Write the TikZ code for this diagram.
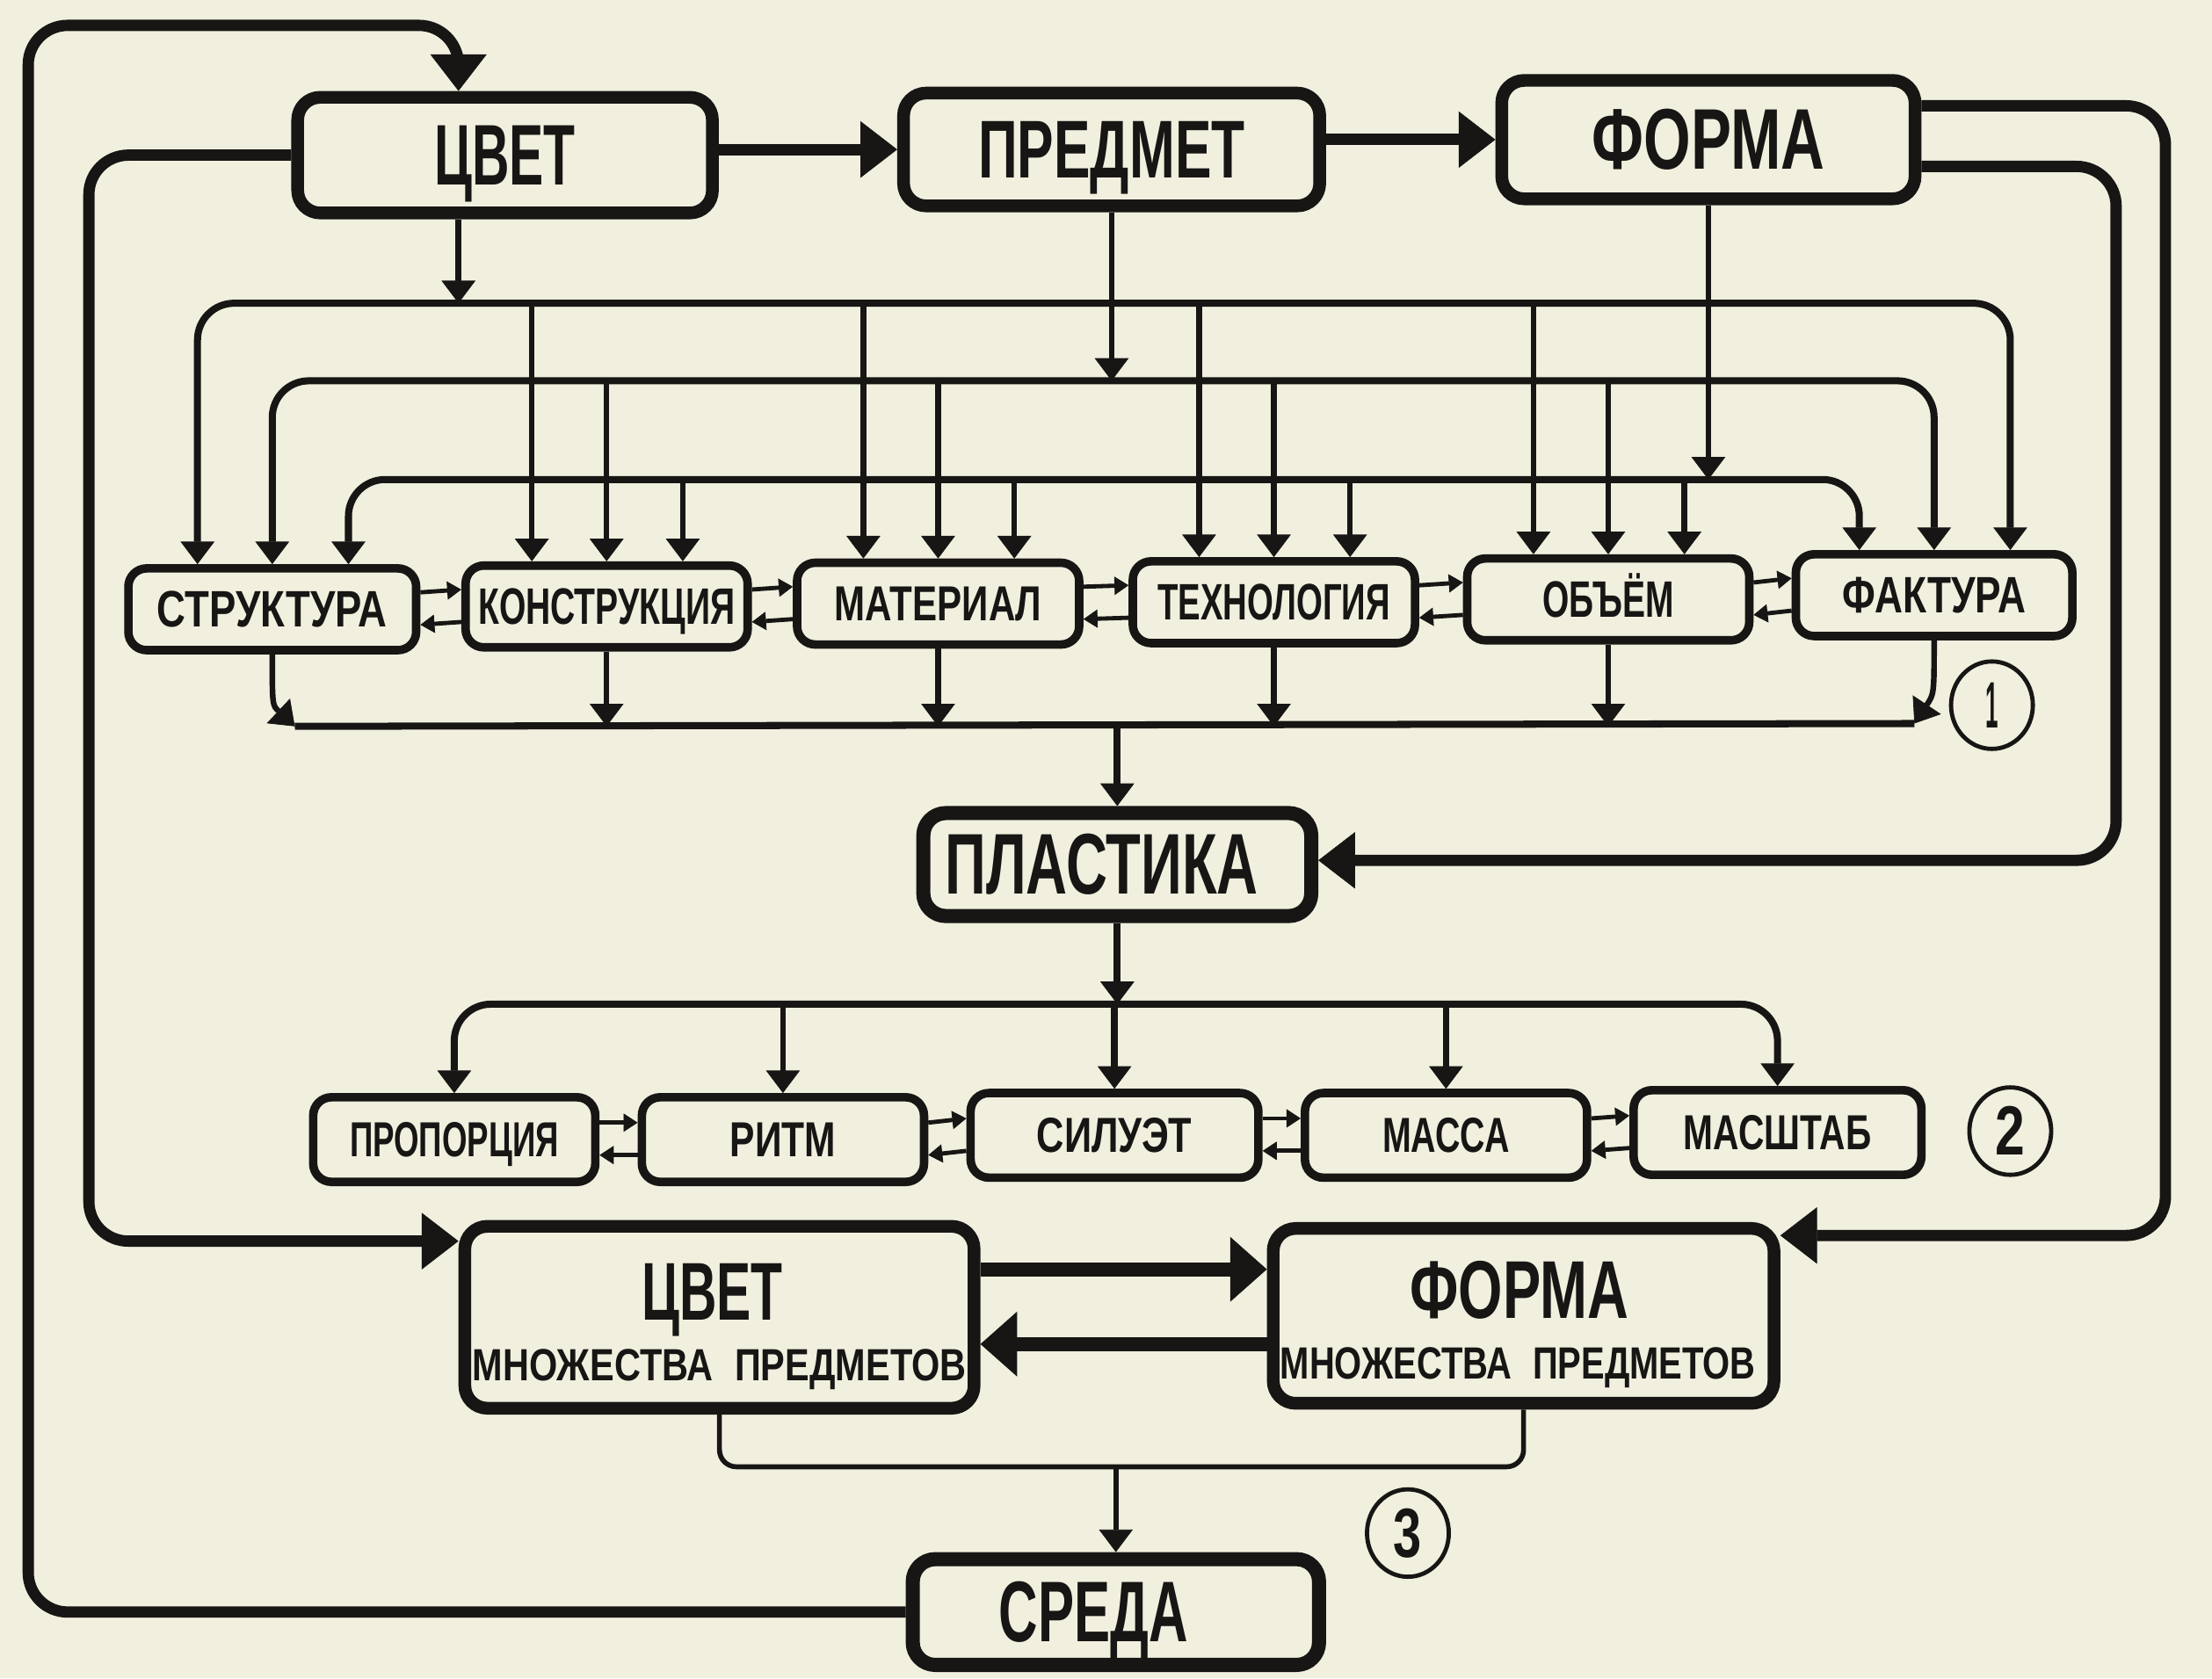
\documentclass[tikz,border=0pt]{standalone}
\usepackage{fontspec}
\setmainfont{Liberation Sans}
\usepackage{graphicx}
\usetikzlibrary{arrows.meta,shapes.geometric}
\definecolor{paper}{RGB}{241,239,222}
\definecolor{ink}{RGB}{24,22,20}
\newcommand\lbl[3]{\resizebox{#1}{#2}{\raisebox{0pt}[0.688em][0pt]{\bfseries #3}}}
\tikzset{
  tipS/.tip={Triangle[length=10pt,width=13pt,line width=0.5pt]},
  tipM/.tip={Triangle[length=16pt,width=24pt,line width=0.5pt]},
  tipL/.tip={Triangle[length=26pt,width=40pt,line width=0.5pt]},
  tipXL/.tip={Triangle[length=26pt,width=46pt,line width=0.5pt]},
  bigbox/.style={draw=ink, line width=9pt, rounded corners=16pt, inner sep=0pt, fill=paper},
  rowbox/.style={draw=ink, line width=6pt, rounded corners=13pt, inner sep=0pt, fill=paper, minimum width=200pt, minimum height=58pt},
  txt/.style={inner sep=0pt},
  loopline/.style={draw=ink, line width=8pt, rounded corners=28pt, -tipL},
  busline/.style={draw=ink, line width=5pt, rounded corners=26pt},
  dropline/.style={draw=ink, line width=4pt, -tipM},
  midline/.style={draw=ink, line width=5pt, -tipM},
  thinline/.style={draw=ink, line width=3.5pt, rounded corners=12pt},
  dblline/.style={draw=ink, line width=3pt, -tipS},
  bigarrow/.style={draw=ink, line width=8pt, -tipL},
  num/.style={draw=ink, ellipse, line width=3pt, minimum width=58pt, minimum height=62pt, inner sep=0pt}
}
\begin{document}
\begin{tikzpicture}[x=1pt,y=-1pt,line join=round,text=ink]
\fill[paper] (0,0) rectangle (1568,1190);
\useasboundingbox (0,0) rectangle (1568,1190);

% top row
\node[bigbox, minimum width=294pt, minimum height=82pt] (cv) at (358,110) {\lbl{100pt}{42pt}{ЦВЕТ}};
\node[bigbox, minimum width=295pt, minimum height=80pt] (pr) at (788,106) {\lbl{189pt}{40pt}{ПРЕДМЕТ}};
\node[bigbox, minimum width=293pt, minimum height=84pt] (fo) at (1211,99) {\lbl{165pt}{42pt}{ФОРМА}};

% middle row
\node[rowbox, minimum width=204pt] (struct) at (193,432) {\lbl{163pt}{25pt}{СТРУКТУРА}};
\node[rowbox] (konst) at (430,430) {\lbl{182pt}{25pt}{КОНСТРУКЦИЯ}};
\node[rowbox] (mat) at (665,428) {\lbl{147pt}{24pt}{МАТЕРИАЛ}};
\node[rowbox] (tech) at (903,427) {\lbl{165pt}{25pt}{ТЕХНОЛОГИЯ}};
\node[rowbox] (obj) at (1140,425) {\lbl{93pt}{25pt}{ОБЪЁМ}};
\node[rowbox, minimum width=196pt] (fakt) at (1371,422) {\lbl{130pt}{25pt}{ФАКТУРА}};

% plastika
\node[bigbox, line width=10pt, minimum width=275pt, minimum height=73pt] (plast) at (792,613) {\lbl{222pt}{42pt}{ПЛАСТИКА}\hspace*{22pt}};

% lower row
\node[rowbox, minimum height=60pt] (prop) at (322,808) {\lbl{148pt}{24pt}{ПРОПОРЦИЯ}};
\node[rowbox, minimum height=60pt] (ritm) at (555,808) {\lbl{75pt}{24pt}{РИТМ}};
\node[rowbox, minimum height=60pt, minimum width=204pt] (sil) at (790,805) {\lbl{110pt}{24pt}{СИЛУЭТ}};
\node[rowbox, minimum height=60pt] (massa) at (1025,805) {\lbl{90pt}{24pt}{МАССА}};
\node[rowbox, minimum height=60pt, minimum width=204pt] (masht) at (1260,803) {\lbl{133pt}{24pt}{МАСШТАБ}};

% sets
\node[bigbox, minimum width=361pt, minimum height=129pt] (cvm) at (510,934) {};
\node[txt] (cvm-a) at ([xshift=-5pt,yshift=18pt]cvm.center) {\lbl{100pt}{40pt}{ЦВЕТ}};
\node[txt] (cvm-b) at ([yshift=-34pt]cvm.center) {\lbl{350pt}{22pt}{МНОЖЕСТВА\hspace{0.6em}ПРЕДМЕТОВ}};
\node[bigbox, minimum width=355pt, minimum height=124pt] (fom) at (1080,933) {};
\node[txt] (fom-a) at ([xshift=-3pt,yshift=18pt]fom.center) {\lbl{155pt}{40pt}{ФОРМА}};
\node[txt] (fom-b) at ([xshift=-4pt,yshift=-34pt]fom.center) {\lbl{337pt}{22pt}{МНОЖЕСТВА\hspace{0.6em}ПРЕДМЕТОВ}};

% sreda
\node[bigbox, line width=10pt, minimum width=288pt, minimum height=75pt] (sreda) at (791,1143) {\lbl{134pt}{42pt}{СРЕДА}\hspace*{32pt}};

% numbers
\node[num] (n1) at (1412,500) {\lbl{9pt}{32pt}{1}};
\node[num] (n2) at (1425,802) {\lbl{21pt}{34pt}{2}};
\node[num] (n3) at (998,1087) {\lbl{20pt}{34pt}{3}};

% helper coordinates
\coordinate (b1) at (0,215);
\coordinate (b2) at (0,270);
\coordinate (b3) at (0,340);
\coordinate (b4) at (0,515);
\coordinate (b5) at (0,712);
\coordinate (b6) at (0,1040);
\foreach \n in {struct,konst,mat,tech,obj,fakt}{
  \coordinate (\n-a) at ([xshift=-53pt]\n.north);
  \coordinate (\n-c) at ([xshift=54pt]\n.north);
}
\coordinate (cvt) at ([xshift=-33pt]cv.north);

% top arrows
\draw[bigarrow] (pr.west -| cv.east) -- (pr.west);
\draw[bigarrow] (fo.west -| pr.east) -- (fo.west);

% feedback loops
\coordinate (LA) at (20,18);
\draw[loopline] (sreda.west) -| (LA) -| (cvt);
\coordinate (LB) at (63,880);
\draw[loopline] (cv.west) -| (LB) -- (LB -| cvm.west);
\coordinate (LC) at (1535,876);
\draw[loopline] ([yshift=24pt]fo.east) -| (LC) -- (LC -| fom.east);
\coordinate (LD) at (1500,610);
\draw[loopline] ([yshift=-19pt]fo.east) -| (LD) -- (LD -| plast.east);

% feeds into buses
\draw[dropline] (cvt |- cv.south) -- (cvt |- b1);
\draw[dropline] (pr.south) -- (pr.south |- b2);
\draw[dropline] (fo.south) -- (fo.south |- b3);

% distribution buses
\draw[busline, tipM-tipM] (struct-a) |- (fakt-c |- b1) -- (fakt-c);
\draw[busline, tipM-tipM] (struct.north) |- (fakt.north |- b2) -- (fakt.north);
\draw[busline, tipM-tipM] (struct-c) |- (fakt-a |- b3) -- (fakt-a);
\foreach \n in {konst,mat,tech,obj}{
  \draw[dropline] (\n-a |- b1) -- (\n-a);
  \draw[dropline] (\n.north |- b2) -- (\n.north);
  \draw[dropline] (\n-c |- b3) -- (\n-c);
}

% double arrows between neighbours
\foreach \a/\b in {struct/konst,konst/mat,mat/tech,tech/obj,obj/fakt,prop/ritm,ritm/sil,sil/massa,massa/masht}{
  \draw[dblline] ([yshift=12pt]\a.east) -- ([yshift=12pt]\b.west);
  \draw[dblline] ([yshift=-11pt]\b.west) -- ([yshift=-11pt]\a.east);
}

% collecting bus 1
\coordinate (b4L) at (209,515);
\coordinate (b4R) at (1357,513);
\draw[busline] (b4L) -- (b4R);
\draw[dropline] (struct.south) .. controls ([yshift=-36pt]struct.south) .. (b4L);
\draw[dropline] (fakt.south) .. controls ([yshift=-38pt]fakt.south) .. (b4R);
\foreach \n in {konst,mat,tech,obj}{
  \draw[dropline] (\n.south) -- (\n.south |- b4);
}
\draw[midline] (plast.north |- b4) -- (plast.north);

% second level
\draw[midline] (plast.south) -- (plast.south |- b5);
\draw[midline] (sil.north |- b5) -- (sil.north);
\draw[busline, tipM-tipM] (prop.north) |- (masht.north |- b5) -- (masht.north);
\draw[dropline] (ritm.north |- b5) -- (ritm.north);
\draw[dropline] (massa.north |- b5) -- (massa.north);

% third level
\coordinate (h1) at (0,900);
\coordinate (h2) at (0,953);
\draw[draw=ink, line width=10pt, -tipXL] (h1 -| cvm.east) -- (h1 -| fom.west);
\draw[draw=ink, line width=10pt, -tipXL] (h2 -| fom.west) -- (h2 -| cvm.east);
\draw[thinline] (cvm.south) |- (fom.south |- b6) -- (fom.south);
\draw[dropline] (sreda.north |- b6) -- (sreda.north);
\end{tikzpicture}
\end{document}
